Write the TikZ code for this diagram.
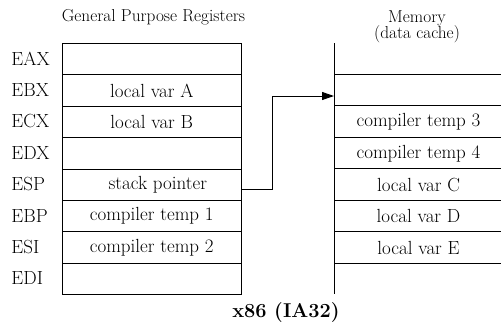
\documentclass[tikz,border=0pt]{standalone}
\usetikzlibrary{arrows.meta}
\begin{document}
\begin{tikzpicture}[x=1pt,y=-1pt,line width=1pt,
  cellfont/.style={font=\fontsize{19}{19}\selectfont},
  reg/.style={draw,cellfont,minimum width=178.5pt,minimum height=31.4pt,inner sep=0pt,anchor=north west},
  mem/.style={cellfont,minimum width=168pt,minimum height=31.4pt,inner sep=0pt,anchor=north west},
  lbl/.style={cellfont,anchor=west,inner sep=0pt},
  ttl/.style={font=\fontsize{17.3}{19}\selectfont,inner sep=0pt},
  conn/.style={-{Triangle[length=12pt,width=8pt]}}
]
\useasboundingbox (0,0) rectangle (501,325);
% titles
\node[ttl] (tgpr) at (153.5,17) {General Purpose Registers};
\node[ttl] (tmem) at (417,18) {Memory};
\node[ttl] (tcache) at (417,34) {(data cache)};
\node[font=\fontsize{20}{20}\selectfont\bfseries,inner sep=0pt] (tarch) at (286,313) {x86 (IA32)};
% registers
\node[reg] (r1) at (62,43) {};
\node[reg] (r2) at (62,74.4) {local var A};
\node[reg] (r3) at (62,105.8) {local var B};
\node[reg] (r4) at (62,137.2) {};
\node[reg] (r5) at (62,168.6) {\hspace{12pt}stack pointer};
\node[reg] (r6) at (62,200) {compiler temp 1};
\node[reg] (r7) at (62,231.4) {compiler temp 2};
\node[reg] (r8) at (62,262.8) {};
% register names
\node[lbl] (nEAX) at (11,58.7) {EAX};
\node[lbl] (nEBX) at (11,90.1) {EBX};
\node[lbl] (nECX) at (11,121.5) {ECX};
\node[lbl] (nEDX) at (11,152.9) {EDX};
\node[lbl] (nESP) at (11,184.3) {ESP};
\node[lbl] (nEBP) at (11,215.7) {EBP};
\node[lbl] (nESI) at (11,247.1) {ESI};
\node[lbl] (nEDI) at (11,278.5) {EDI};
% memory
\coordinate (mtop) at (334,43);
\coordinate (mbot) at (334,294.2);
\draw (mtop) -- (mbot);
\node[mem] (m1) at (334,74.4) {};
\node[mem] (m2) at (334,105.8) {compiler temp 3};
\node[mem] (m3) at (334,137.2) {compiler temp 4};
\node[mem] (m4) at (334,168.6) {local var C};
\node[mem] (m5) at (334,200) {local var D};
\node[mem] (m6) at (334,231.4) {local var E};
\foreach \m in {m1,m2,m3,m4,m5,m6} {\draw (\m.north west) -- (\m.north east);}
\draw (m6.south west) -- (m6.south east);
% connector
\coordinate (c1) at (272,189);
\coordinate (c2) at (272,96);
\draw[conn] (r5.east |- c1) -- (c1) -- (c2) -- (m1.west |- c2);
\end{tikzpicture}
\end{document}
